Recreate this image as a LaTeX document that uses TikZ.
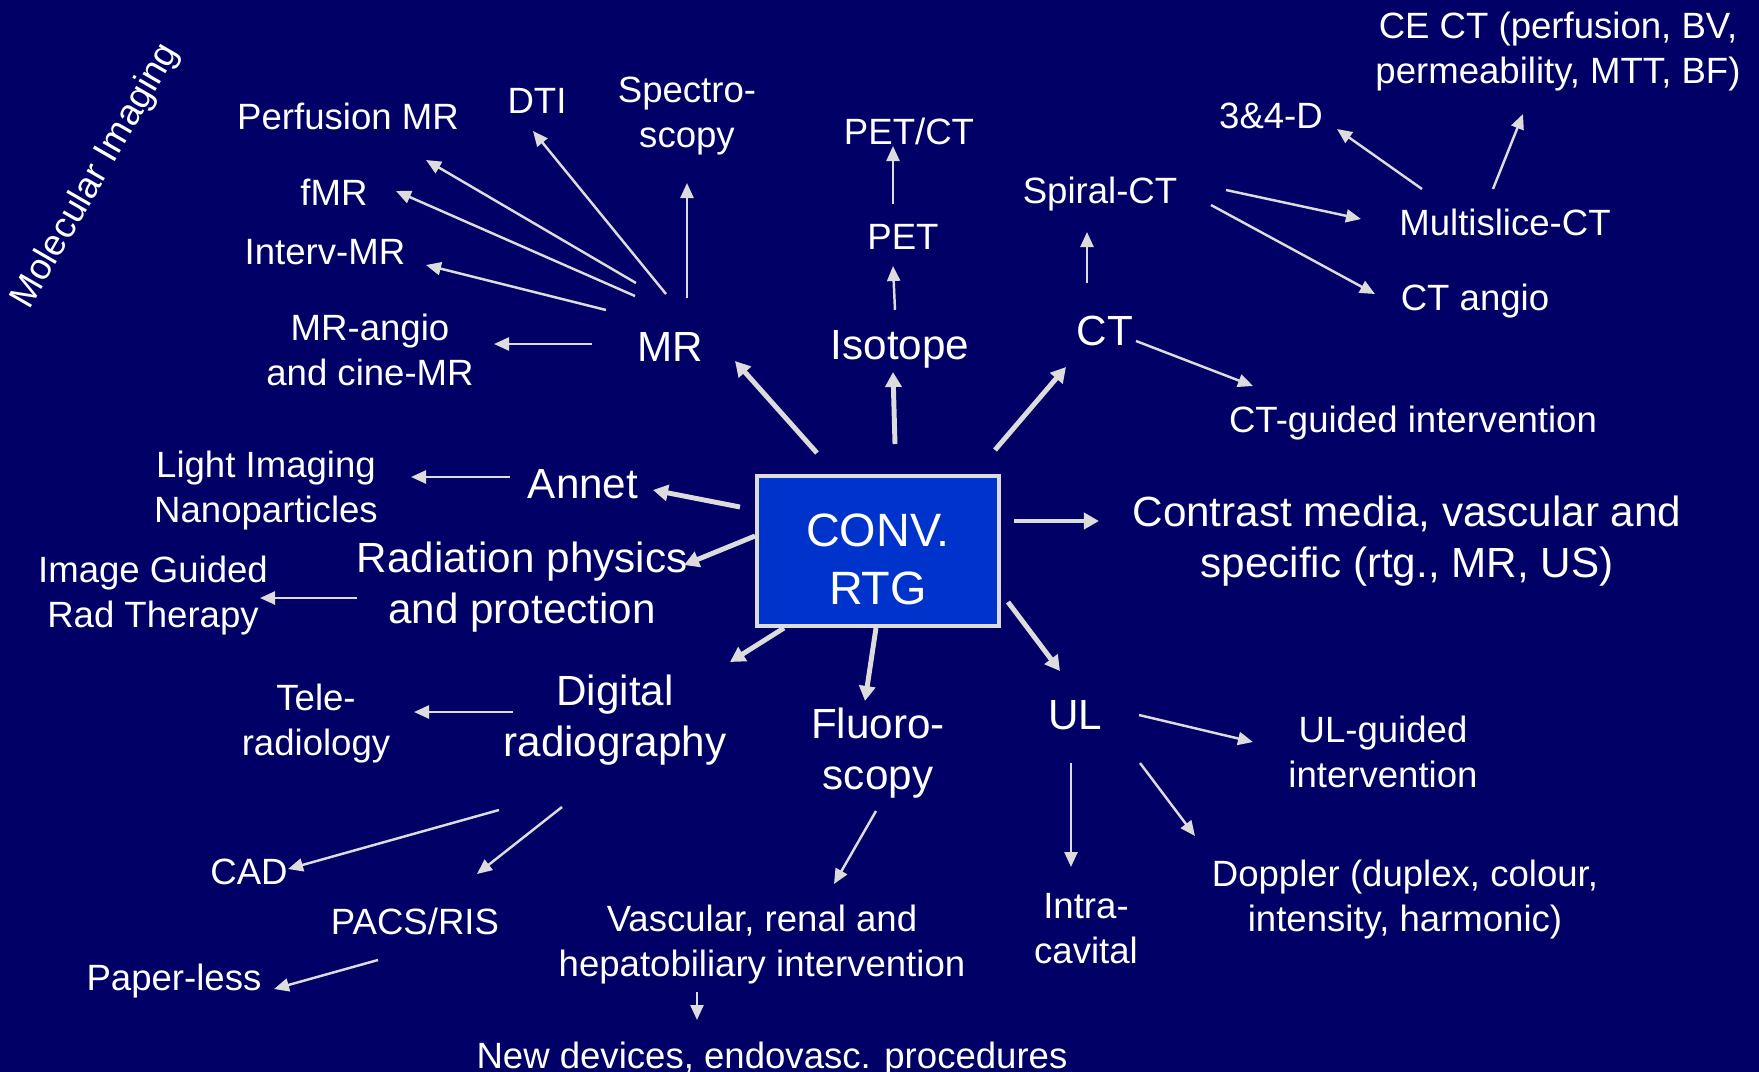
\documentclass[tikz,border=0pt]{standalone}
\usepackage{fontspec}
\setmainfont{Liberation Sans}
\usepackage{tikz}
\usetikzlibrary{arrows.meta}

\definecolor{navy}{RGB}{0,0,102}
\definecolor{boxblue}{RGB}{0,51,204}
\definecolor{arrowgray}{RGB}{220,220,220}

\tikzset{
  lbl/.style={text=white, align=center, inner sep=0pt, font=\fontsize{10.4}{12.8}\selectfont},
  biglbl/.style={text=white, align=center, inner sep=0pt, font=\fontsize{12}{14.7}\selectfont},
  mainarrow/.style={draw=arrowgray, line width=1.4pt, -{Triangle[length=0.15cm,width=0.16cm]}},
  subarrow/.style={draw=arrowgray, line width=0.7pt, -{Triangle[length=0.15cm,width=0.13cm]}}
}

\begin{document}
\begin{tikzpicture}[x=0.01cm,y=-0.01cm]
\fill[navy] (0,0) rectangle (1759,1072);
\useasboundingbox (0,0) rectangle (1759,1072);

% centre
\node[draw=arrowgray, line width=1pt, fill=boxblue, text=white, align=center,
  minimum width=2.42cm, minimum height=1.5cm, inner sep=0pt,
  font=\fontsize{13.3}{16.3}\selectfont] (conv) at (878,551) {\rule{0pt}{14pt}CONV.\\RTG};

% MR
\node[lbl, rotate=60] (molimg) at (96,176) {Molecular Imaging};
\node[lbl] (perf) at (348,116) {Perfusion MR};
\node[lbl] (dti) at (537,101) {DTI};
\node[lbl] (spectro) at (687,116) {Spectro-\\scopy};
\node[lbl] (fmr) at (334,192) {fMR};
\node[lbl] (intervmr) at (325,252) {Interv-MR};
\node[lbl] (mrangio) at (370,350) {MR-angio\\and cine-MR};
\node[biglbl] (mr) at (670,347) {MR};

% isotope
\node[lbl] (petct) at (909,131) {PET/CT};
\node[lbl] (pet) at (903,237) {PET};
\node[biglbl] (isotope) at (900,349) {Isotope};

% CT
\node[lbl] (spiral) at (1100,194) {Spiral-CT};
\node[biglbl] (ct) at (1105,331) {CT};
\node[lbl] (threed) at (1271,116) {3\&4-D};
\node[lbl] (cect) at (1558,52) {CE CT (perfusion, BV,\\permeability, MTT, BF)};
\node[lbl] (multislice) at (1505,222) {Multislice-CT};
\node[lbl] (ctangio) at (1475,301) {CT angio};
\node[lbl] (ctguided) at (1413,423) {CT-guided intervention};

% left side
\node[lbl] (lightimg) at (266,491) {Light Imaging\\Nanoparticles};
\node[biglbl] (annet) at (583,484) {Annet};
\node[biglbl] (radiation) at (522,587) {Radiation physics\\and protection};
\node[lbl] (igrt) at (153,596) {Image Guided\\Rad Therapy};
\node[biglbl] (contrast) at (1407,541) {Contrast media, vascular and\\specific (rtg., MR, US)};

% lower part
\node[lbl] (tele) at (316,724) {Tele-\\radiology};
\node[biglbl] (digital) at (615,720) {Digital\\radiography};
\node[biglbl] (fluoro) at (878,753) {Fluoro-\\scopy};
\node[biglbl] (ul) at (1075,715) {UL};
\node[lbl] (ulguided) at (1383,752) {UL-guided\\intervention};
\node[lbl] (cad) at (249,872) {CAD};
\node[lbl] (pacs) at (415,921) {PACS/RIS};
\node[lbl] (paperless) at (174,981) {Paper-less};
\node[lbl] (vascular) at (762,945) {Vascular, renal and\\hepatobiliary intervention};
\node[lbl] (intracav) at (1086,929) {Intra-\\cavital};
\node[lbl] (doppler) at (1405,900) {Doppler (duplex, colour,\\intensity, harmonic)};
\node[lbl, anchor=base] (newdev) at (772,1068) {New devices, endovasc. procedures};

% arrows from the centre
\draw[mainarrow] ([shift={(-61,-98)}]conv.center) -- ([shift={(65,14)}]mr.center);
\draw[mainarrow] ([shift={(17,-107)}]conv.center) -- ([shift={(-7,23)}]isotope.center);
\draw[mainarrow] ([shift={(117,-101)}]conv.center) -- ([shift={(-39,36)}]ct.center);
\draw[mainarrow] ([shift={(-138,-44)}]conv.center) -- ([shift={(70,6)}]annet.center);
\draw[mainarrow] ([shift={(-123,-15)}]conv.center) -- ([shift={(162,-22)}]radiation.center);
\draw[mainarrow] ([shift={(136,-30)}]conv.center) -- ([shift={(-308,-20)}]contrast.center);
\draw[mainarrow] ([shift={(-94,77)}]conv.center) -- ([shift={(115,-58)}]digital.center);
\draw[mainarrow] ([shift={(-2,77)}]conv.center) -- ([shift={(-13,-52)}]fluoro.center);
\draw[mainarrow] ([shift={(130,51)}]conv.center) -- ([shift={(-15,-44)}]ul.center);

% MR branches
\draw[subarrow] ([shift={(-34,-64)}]mr.center) -- ([shift={(78,44)}]perf.center);
\draw[subarrow] ([shift={(-4,-53)}]mr.center) -- ([shift={(-4,30)}]dti.center);
\draw[subarrow] ([shift={(17,-49)}]mr.center) -- ([shift={(0,67)}]spectro.center);
\draw[subarrow] ([shift={(-35,-51)}]mr.center) -- ([shift={(62,-1)}]fmr.center);
\draw[subarrow] ([shift={(-64,-37)}]mr.center) -- ([shift={(101,13)}]intervmr.center);
\draw[subarrow] ([shift={(-78,-3)}]mr.center) -- ([shift={(124,-6)}]mrangio.center);

% isotope branches
\draw[subarrow] ([shift={(-5,-39)}]isotope.center) -- ([shift={(-10,29)}]pet.center);
\draw[subarrow] ([shift={(-10,-33)}]pet.center) -- ([shift={(-16,15)}]petct.center);

% CT branches
\draw[subarrow] ([shift={(-18,-48)}]ct.center) -- ([shift={(-13,38)}]spiral.center);
\draw[subarrow] ([shift={(31,10)}]ct.center) -- ([shift={(-160,-37)}]ctguided.center);
\draw[subarrow] ([shift={(126,-4)}]spiral.center) -- ([shift={(-144,-3)}]multislice.center);
\draw[subarrow] ([shift={(111,11)}]spiral.center) -- ([shift={(-100,-7)}]ctangio.center);
\draw[subarrow] ([shift={(-83,-33)}]multislice.center) -- ([shift={(66,13)}]threed.center);
\draw[subarrow] ([shift={(-12,-33)}]multislice.center) -- ([shift={(-35,62)}]cect.center);

% left branches
\draw[subarrow] ([shift={(-73,-7)}]annet.center) -- ([shift={(145,-14)}]lightimg.center);
\draw[subarrow] ([shift={(-165,11)}]radiation.center) -- ([shift={(107,2)}]igrt.center);

% lower branches
\draw[subarrow] ([shift={(-102,-8)}]digital.center) -- ([shift={(98,-12)}]tele.center);
\draw[subarrow] ([shift={(-116,90)}]digital.center) -- ([shift={(39,-3)}]cad.center);
\draw[subarrow] ([shift={(-53,87)}]digital.center) -- ([shift={(62,-47)}]pacs.center);
\draw[subarrow] ([shift={(-37,39)}]pacs.center) -- ([shift={(100,8)}]paperless.center);
\draw[subarrow] ([shift={(-2,58)}]fluoro.center) -- ([shift={(72,-61)}]vascular.center);
\draw[subarrow] ([shift={(-65,47)}]vascular.center) -- ([shift={(-75,-48)}]newdev.base);
\draw[subarrow] ([shift={(64,0)}]ul.center) -- ([shift={(-130,-10)}]ulguided.center);
\draw[subarrow] ([shift={(-4,48)}]ul.center) -- ([shift={(-15,-62)}]intracav.center);
\draw[subarrow] ([shift={(65,48)}]ul.center) -- ([shift={(-210,-64)}]doppler.center);
\end{tikzpicture}
\end{document}
